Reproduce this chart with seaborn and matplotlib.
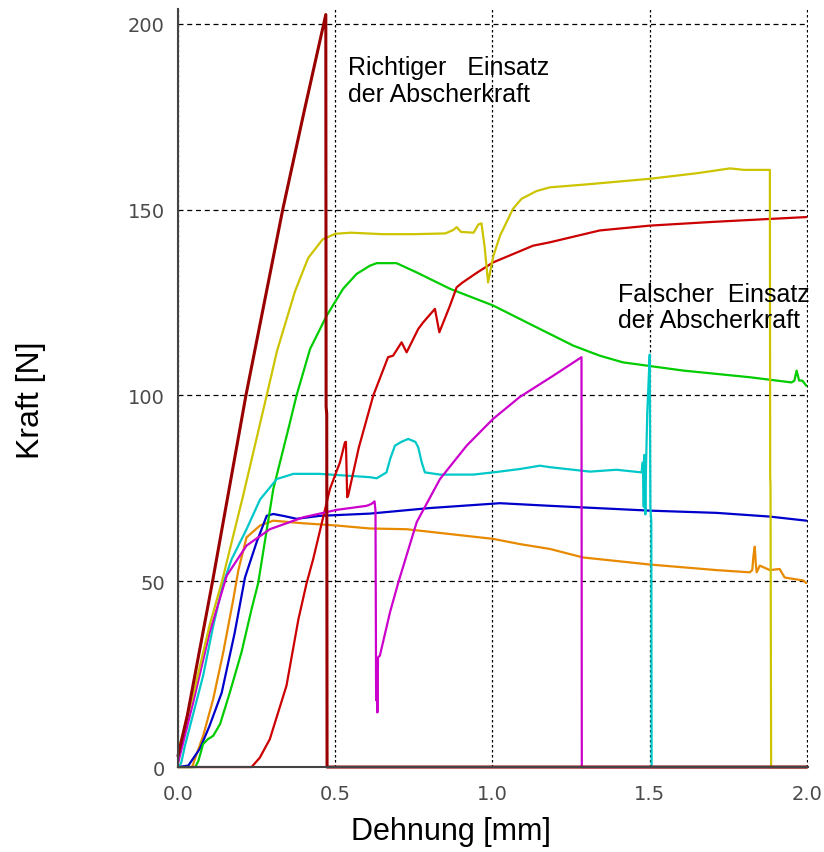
import matplotlib
matplotlib.use("Agg")
import matplotlib.pyplot as plt
from matplotlib.ticker import MultipleLocator, FormatStrFormatter
import pandas as pd
import seaborn as sns

# Kraft-Dehnungs-Kurven
x_dunkelrot = [0.0, 0.03, 0.11, 0.216, 0.333, 0.40, 0.470, 0.471, 0.473, 0.474, 2.0]
y_dunkelrot = [3, 14, 50, 100, 150, 176, 202.5, 97, 95, 0, 0]

x_gelb = [0.0, 0.05, 0.10, 0.14, 0.207, 0.282, 0.315, 0.372, 0.414, 0.46, 0.50, 0.55, 0.65, 0.75,
          0.85, 0.875, 0.886, 0.90, 0.94, 0.955, 0.965, 0.975, 0.986, 0.992, 1.003, 1.024, 1.065,
          1.092, 1.14, 1.182, 1.30, 1.50, 1.65, 1.755, 1.80, 1.882, 1.883, 1.884, 1.886, 2.0]
y_gelb = [4, 20, 38, 50, 73, 100, 112, 128, 137, 142, 143.5, 143.8, 143.4, 143.4,
          143.6, 144.5, 145.3, 144, 143.8, 146, 146.3, 140, 130.4, 133, 137.6, 143, 150.2,
          152.9, 155, 156, 156.8, 158.3, 159.8, 161.1, 160.7, 160.7, 78, 76, 0, 0]

x_rot = [0.0, 0.234, 0.26, 0.292, 0.345, 0.383, 0.409, 0.43, 0.483, 0.515, 0.531, 0.534, 0.538,
         0.541, 0.575, 0.621, 0.668, 0.684, 0.711, 0.727, 0.764, 0.78, 0.817, 0.831, 0.865, 0.886,
         0.905, 0.95, 1.002, 1.129, 1.182, 1.341, 1.5, 1.70, 1.882, 1.998]
y_rot = [0, 0, 2.5, 7.5, 21.9, 39.8, 49.5, 56, 74.8, 82, 87.4, 87.5, 72.6,
         73, 86, 100, 110.3, 110.7, 114.3, 111.6, 117.9, 119.7, 123.3, 117, 124.2, 129.1,
         130.4, 133, 135.8, 140.3, 141.2, 144.4, 145.7, 146.7, 147.5, 148]

x_gruen = [0.0, 0.055, 0.065, 0.08, 0.095, 0.112, 0.134, 0.165, 0.202, 0.234, 0.255, 0.303, 0.351,
           0.377, 0.42, 0.473, 0.525, 0.568, 0.61, 0.632, 0.695, 0.759, 0.865, 1.002, 1.129, 1.257,
           1.341, 1.415, 1.606, 1.818, 1.951, 1.96, 1.967, 1.975, 1.985, 1.998]
y_gruen = [0, 0, 1.7, 6.2, 7.5, 8.4, 11.6, 20.1, 30.9, 42.5, 49.5, 74.8, 91,
           100, 112.5, 121.5, 128.7, 132.7, 134.9, 135.6, 135.6, 133.1, 128.7, 124.2, 118.8, 113.4,
           110.7, 108.9, 106.7, 104.9, 103.5, 104, 106.7, 104, 104, 102.6]

x_cyan = [0.0, 0.01, 0.022, 0.08, 0.112, 0.144, 0.171, 0.218, 0.261, 0.314, 0.367, 0.45, 0.504,
          0.61, 0.632, 0.663, 0.675, 0.69, 0.71, 0.732, 0.755, 0.764, 0.775, 0.785, 0.833, 0.939,
          1.013, 1.087, 1.151, 1.182, 1.278, 1.31, 1.394, 1.474, 1.478, 1.481, 1.483, 1.486,
          1.488, 1.492, 1.497, 1.50, 1.502, 1.505, 1.506, 2.0]
y_cyan = [0, 1, 5.7, 24.6, 38, 49.5, 56, 64, 72, 77.5, 78.9, 78.9, 78.6,
          78, 77.7, 79.3, 83, 86.5, 87.5, 88.3, 87.5, 86, 82, 79.3, 78.7, 78.7,
          79.4, 80.2, 81.1, 80.7, 79.8, 79.5, 80, 79.3, 82, 70, 84, 68,
          80, 95, 105, 111, 70, 66, 0, 0]

x_blau = [0.0, 0.033, 0.07, 0.10, 0.139, 0.18, 0.213, 0.25, 0.282, 0.303, 0.34, 0.377, 0.451,
          0.61, 0.801, 1.024, 1.182, 1.5, 1.712, 1.882, 1.998]
y_blau = [0, 0.4, 5, 11, 20, 36, 51, 60.5, 67.6, 68.1, 67.5, 66.8, 67.6,
          68.2, 69.7, 71, 70.3, 69, 68.4, 67.4, 66.3]

x_orange = [0.0, 0.045, 0.054, 0.08, 0.112, 0.144, 0.176, 0.192, 0.218, 0.261, 0.303, 0.398,
            0.504, 0.61, 0.727, 1.002, 1.087, 1.182, 1.288, 1.5, 1.712, 1.818, 1.826, 1.83,
            1.834, 1.837, 1.84, 1.85, 1.882, 1.913, 1.929, 1.988, 1.998]
y_orange = [0, 0, 2.2, 8.4, 18.3, 30.9, 45.2, 53, 61.8, 65, 66.3, 65.6,
            65, 64.2, 64, 61.4, 60, 58.7, 56.4, 54.5, 53, 52.4, 53, 57,
            59.3, 55, 52.4, 54.2, 53, 53.3, 51, 50.2, 49.5]

x_magenta = [0.0, 0.05, 0.10, 0.155, 0.218, 0.292, 0.398, 0.504, 0.60, 0.615, 0.625, 0.628,
             0.630, 0.632, 0.634, 0.636, 0.642, 0.674, 0.70, 0.759, 0.833, 0.918, 1.002, 1.087,
             1.193, 1.283, 1.284, 2.0]
y_magenta = [1, 18, 36, 51.5, 59.6, 64, 67.2, 69.2, 70.3, 70.8, 71.5, 69,
             18, 29, 14.7, 29.5, 30, 41.6, 49.5, 65.9, 77.5, 86.5, 93.7, 99.6,
             105.3, 110.3, 0, 0]

kurven = [
    ("orange", x_orange, y_orange, "#E88A00"),
    ("blau", x_blau, y_blau, "#0000CC"),
    ("gruen", x_gruen, y_gruen, "#00CC00"),
    ("cyan", x_cyan, y_cyan, "#00C8C8"),
    ("rot", x_rot, y_rot, "#CC0000"),
    ("magenta", x_magenta, y_magenta, "#CC00CC"),
    ("gelb", x_gelb, y_gelb, "#CCC400"),
    ("dunkelrot", x_dunkelrot, y_dunkelrot, "#990000"),
]

sns.set_style("white")
plt.rcParams["font.family"] = ["DejaVu Sans"]
plt.rcParams["text.color"] = "black"
plt.rcParams["axes.labelcolor"] = "black"

fig = plt.figure(figsize=(8.24, 8.53), dpi=100)
ax = fig.add_axes([0.216, 0.0996, 0.7645, 0.8887])

for name, xs, ys, col in kurven:
    df = pd.DataFrame({"Dehnung": xs, "Kraft": ys})
    lw = 2.2 if name == "dunkelrot" else 1.6
    sns.lineplot(data=df, x="Dehnung", y="Kraft", ax=ax, color=col, lw=lw,
                 sort=False, estimator=None)
    ax.lines[-1].set_clip_on(False)

ax.set_xlim(0, 2.003)
ax.set_ylim(0, 204)
ax.xaxis.set_major_locator(MultipleLocator(0.5))
ax.xaxis.set_minor_locator(MultipleLocator(0.1))
ax.yaxis.set_major_locator(MultipleLocator(50))
ax.yaxis.set_minor_locator(MultipleLocator(10))
ax.xaxis.set_major_formatter(FormatStrFormatter("%.1f"))
ax.yaxis.set_major_formatter(FormatStrFormatter("%d"))

ax.set_axisbelow(True)
ax.yaxis.grid(True, which="major", color="black", lw=0.9, linestyle=(0, (4, 3)))
ax.xaxis.grid(True, which="major", color="black", lw=0.9, linestyle=(0, (2, 2)))

for s in ["top", "right"]:
    ax.spines[s].set_visible(False)
for s in ["left", "bottom"]:
    ax.spines[s].set_color("#444444")
    ax.spines[s].set_linewidth(1.5)

ax.tick_params(which="major", direction="inout", length=9, width=1.2, color="#333333",
               labelsize=14, labelcolor="#4a4a4a")
ax.tick_params(axis="y", which="major", pad=5)
ax.tick_params(axis="x", which="major", pad=8)
ax.tick_params(which="minor", direction="inout", length=6, width=1.0, color="#333333")

ax.set_xlabel("Dehnung [mm]", fontsize=22, family="Liberation Sans")
ax.set_ylabel("Kraft [N]", fontsize=23, family="Liberation Sans")
ax.xaxis.set_label_coords(0.434, -0.064)
ax.yaxis.set_label_coords(-0.209, 0.485)

ax.text(0.54, 191.5, "Richtiger   Einsatz\nder Abscherkraft", fontsize=18,
        family="Liberation Sans", va="top", ha="left", linespacing=1.12)
ax.text(1.399, 130.5, "Falscher  Einsatz\nder Abscherkraft", fontsize=18,
        family="Liberation Sans", va="top", ha="left", linespacing=1.12)

fig.savefig("out.png", dpi=100, facecolor="white")
